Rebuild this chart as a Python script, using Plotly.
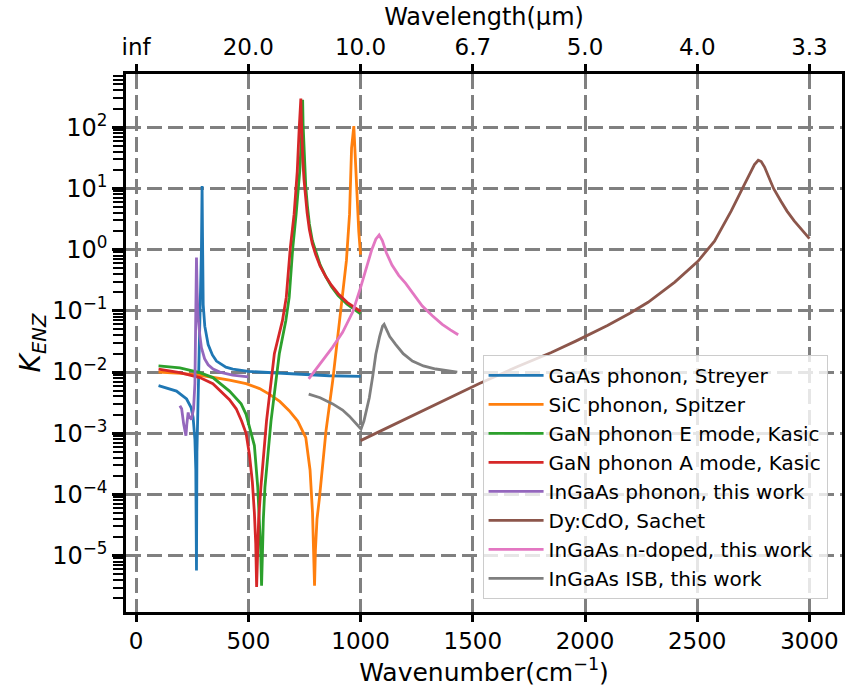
import plotly.graph_objects as go

# ---- data (x: wavenumber cm^-1, y: log10 of K_ENZ) ----
gaas_x = [100, 140, 180, 225, 245, 254, 262, 266, 269, 271, 275, 279, 285, 291, 294, 296, 299, 306, 321, 340, 358, 400, 431, 500, 639, 861, 1000]
gaas_logk = [-2.22, -2.26, -2.31, -2.44, -2.58, -2.74, -3.1, -3.6, -5.24, -3.3, -2.5, -1.93, -1.0, -0.02, 1.04, 0.2, -0.9, -1.25, -1.55, -1.72, -1.82, -1.92, -1.95, -1.99, -2.02, -2.06, -2.07]

sic_x = [100, 200, 300, 416, 490, 550, 593, 640, 682, 720, 756, 775, 786, 791, 795, 799, 806, 817, 846, 876, 910, 937, 951, 960, 970, 980, 992, 1000]
sic_logk = [-2.0, -2.02, -2.06, -2.13, -2.19, -2.27, -2.36, -2.48, -2.63, -2.8, -3.07, -3.6, -4.3, -4.9, -5.49, -4.9, -4.4, -4.05, -2.96, -2.14, -1.06, -0.18, 0.58, 1.66, 2.02, 1.12, 0.30, -0.08]

ganE_x = [100, 195, 284, 342, 416, 468, 490, 510, 527, 542, 550, 555, 559, 563, 567, 574, 601, 638, 667, 682, 698, 713, 729, 738, 742,
          744, 747, 751, 756, 763, 772, 785, 800, 820, 845, 870, 900, 940, 1000]
ganE_logk = [-1.90, -1.93, -2.01, -2.09, -2.31, -2.52, -2.69, -2.95, -3.2, -3.88, -4.4, -4.9, -5.49, -4.9, -4.4, -3.88, -2.80, -1.70, -1.16, -0.78, 0.03, 0.58, 1.28, 1.93, 2.45,
             2.05, 1.7, 1.35, 1.02, 0.72, 0.42, 0.15, -0.04, -0.25, -0.44, -0.6, -0.75, -0.89, -1.05]

ganA_x = [100, 195, 284, 342, 416, 446, 470, 490, 505, 518, 527, 533, 537, 541, 546, 556, 581, 616, 652, 669, 687, 704, 718, 726, 734,
          736, 739, 743, 748, 754, 762, 772, 785, 800, 820, 845, 870, 900, 940, 1000]
ganA_logk = [-1.95, -2.01, -2.09, -2.19, -2.45, -2.6, -2.8, -3.0, -3.35, -3.8, -4.3, -4.8, -5.51, -4.9, -4.4, -3.88, -2.80, -1.70, -1.16, -0.78, 0.03, 0.58, 1.28, 1.93, 2.47,
             2.15, 1.8, 1.45, 1.15, 0.88, 0.6, 0.33, 0.1, -0.08, -0.27, -0.44, -0.58, -0.72, -0.86, -1.01]

ingaas_ph_x = [195, 203, 212, 218, 222, 226, 232, 237, 241, 246, 251, 256, 262, 266, 269, 272, 276, 284, 291, 305, 321, 343, 373, 430, 500]
ingaas_ph_logk = [-2.55, -2.6, -2.85, -3.0, -3.04, -2.85, -2.66, -2.76, -2.72, -2.78, -2.70, -2.6, -2.19, -1.2, -0.13, -0.7, -1.1, -1.4, -1.6, -1.78, -1.88, -1.95, -2.0, -2.05, -2.08]

cdo_x = [1000, 1200, 1400, 1527, 1700, 1850, 1961, 2100, 2200, 2281, 2400, 2503, 2577, 2651, 2711, 2755, 2772, 2785, 2800, 2814, 2840, 2873, 2900, 2932, 2965, 3000]
cdo_logk = [-3.12, -2.77, -2.42, -2.19, -1.91, -1.68, -1.49, -1.24, -1.04, -0.86, -0.53, -0.19, 0.14, 0.63, 1.07, 1.39, 1.46, 1.44, 1.35, 1.23, 1.0, 0.79, 0.63, 0.47, 0.32, 0.18]

ndoped_x = [769, 820, 874, 920, 965, 1000, 1030, 1050, 1068, 1083, 1097, 1115, 1140, 1170, 1201, 1240, 1275, 1320, 1364, 1400, 1435]
ndoped_logk = [-2.11, -1.87, -1.60, -1.35, -1.02, -0.62, -0.25, 0.0, 0.17, 0.24, 0.15, -0.05, -0.25, -0.42, -0.55, -0.75, -0.92, -1.08, -1.22, -1.31, -1.39]

isb_x = [769, 820, 876, 920, 950, 975, 990, 1002, 1015, 1039, 1055, 1068, 1085, 1098, 1105, 1115, 1130, 1157, 1190, 1231, 1280, 1335, 1385, 1431]
isb_logk = [-2.36, -2.42, -2.52, -2.62, -2.72, -2.82, -2.89, -2.93, -2.8, -2.42, -2.05, -1.71, -1.42, -1.25, -1.22, -1.3, -1.42, -1.55, -1.7, -1.82, -1.9, -1.95, -1.98, -2.0]

series_names = ["GaAs phonon, Streyer", "SiC phonon, Spitzer", "GaN phonon E mode, Kasic",
                "GaN phonon A mode, Kasic", "InGaAs phonon, this work", "Dy:CdO, Sachet",
                "InGaAs n-doped, this work", "InGaAs ISB, this work"]
series_x = [gaas_x, sic_x, ganE_x, ganA_x, ingaas_ph_x, cdo_x, ndoped_x, isb_x]
series_logk = [gaas_logk, sic_logk, ganE_logk, ganA_logk, ingaas_ph_logk, cdo_logk, ndoped_logk, isb_logk]
colors = ["#1f77b4", "#ff7f0e", "#2ca02c", "#d62728", "#9467bd", "#8c564b", "#e377c2", "#7f7f7f"]

x_ticks = [0, 500, 1000, 1500, 2000, 2500, 3000]
top_tick_text = ["inf", "20.0", "10.0", "6.7", "5.0", "4.0", "3.3"]
y_tick_exp = [-5, -4, -3, -2, -1, 0, 1, 2]

FONT = "DejaVu Sans"
X_RANGE = [-45, 3145]

fig = go.Figure()
for name, xs, ls, c in zip(series_names, series_x, series_logk, colors):
    fig.add_trace(go.Scatter(x=xs, y=[10 ** v for v in ls], mode="lines", name=name,
                             legendgroup=name,
                             line=dict(color=c, width=2.8)))

# invisible helper trace so the top (wavelength) axis is drawn
fig.add_trace(go.Scatter(x=x_ticks, y=[1] * len(x_ticks), xaxis="x2", yaxis="y",
                         mode="lines", line=dict(width=0, color="rgba(0,0,0,0)"),
                         showlegend=False, hoverinfo="skip"))

y_min_log, y_max_log = -5.92, 2.87
minor_vals = []
for k in range(-7, 4):
    for m in range(2, 10):
        v = m * 10 ** k
        if 10 ** y_min_log <= v <= 10 ** y_max_log:
            minor_vals.append(v)

grid_common = dict(showgrid=True, gridcolor="#808080", gridwidth=2.5, griddash="15px,6px")

fig.update_layout(
    width=849, height=690,
    margin=dict(l=126, r=4, t=74, b=78),
    plot_bgcolor="white", paper_bgcolor="white",
    font=dict(family=FONT, size=20, color="black"),
    showlegend=True,
    legend=dict(x=0.498, y=0.478, xanchor="left", yanchor="top",
                bgcolor="rgba(255,255,255,0.8)", bordercolor="#cccccc", borderwidth=1,
                font=dict(family=FONT, size=20), tracegroupgap=7, traceorder="normal",
                itemwidth=55),
    xaxis=dict(range=X_RANGE, tickmode="array", tickvals=x_ticks,
               ticks="outside", ticklen=7, tickwidth=2.5, tickcolor="black",
               showline=True, linewidth=2.5, linecolor="black", mirror=False,
               zeroline=False, tickfont=dict(size=23),
               title=dict(text="Wavenumber(cm<sup>−1</sup>)", font=dict(size=25), standoff=4),
               **grid_common),
    xaxis2=dict(range=X_RANGE, overlaying="x", side="top", anchor="y",
                tickmode="array", tickvals=x_ticks, ticktext=top_tick_text,
                ticks="outside", ticklen=7, tickwidth=2.5, tickcolor="black",
                showline=True, linewidth=2.5, linecolor="black",
                showgrid=False, zeroline=False, tickfont=dict(size=23),
                title=dict(text="Wavelength(μm)", font=dict(size=24), standoff=2)),
    yaxis=dict(type="log", range=[y_min_log, y_max_log], tickmode="array",
               tickvals=[10 ** e for e in y_tick_exp],
               ticktext=["10<sup>%s</sup>" % (str(e).replace("-", "−")) for e in y_tick_exp],
               ticks="outside", ticklen=11, tickwidth=2.5, tickcolor="black",
               showline=True, linewidth=2.5, linecolor="black", mirror=True,
               zeroline=False, tickfont=dict(size=24),
               minor=dict(tickmode="array", tickvals=minor_vals, ticks="outside",
                          ticklen=10, tickwidth=1.5, tickcolor="black", showgrid=False),
               title=dict(text="<i>K</i><sub><i>ENZ</i></sub>", font=dict(size=28), standoff=4),
               **grid_common),
)

fig.write_html("out.html")
